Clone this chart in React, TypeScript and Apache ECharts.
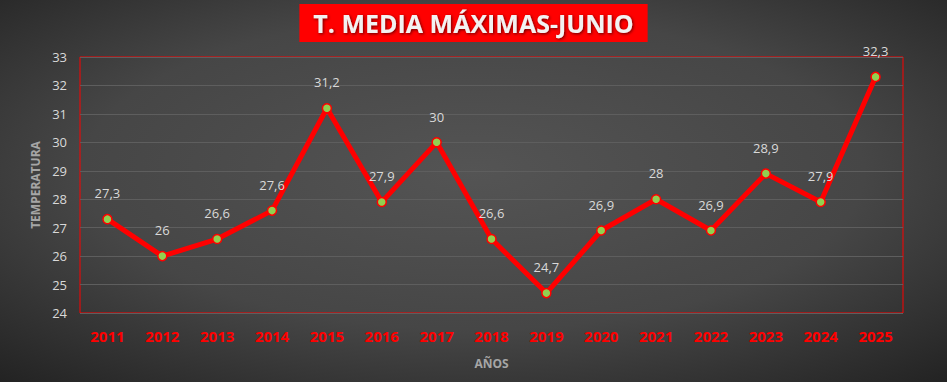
import React, { useEffect, useRef } from "react";
import * as echarts from "echarts";

const years = ["2011","2012","2013","2014","2015","2016","2017","2018","2019","2020","2021","2022","2023","2024","2025"];
const temps = [27.3, 26, 26.6, 27.6, 31.2, 27.9, 30, 26.6, 24.7, 26.9, 28, 26.9, 28.9, 27.9, 32.3];
const title = "T. MEDIA MÁXIMAS-JUNIO";
const yName = "TEMPERATURA";
const xName = "AÑOS";

export default function App() {
  const ref = useRef<HTMLDivElement>(null);
  useEffect(() => {
    document.body.style.margin = "0";
    const chart = echarts.init(ref.current!, null, { renderer: "svg" });
    chart.setOption({
      animation: false,
      backgroundColor: {
        type: "radial", x: 0.5, y: 0.45, r: 0.75,
        colorStops: [
          { offset: 0, color: "#545454" },
          { offset: 0.55, color: "#464646" },
          { offset: 1, color: "#222222" },
        ],
      },
      title: {
        text: title,
        left: "center",
        top: 4,
        backgroundColor: "#ff0000",
        padding: [4, 14, 4, 14],
        textStyle: {
          color: "#f2f2f2",
          fontFamily: "Open Sans",
          fontWeight: "bold",
          fontSize: 25,
          lineHeight: 30,
          textShadowColor: "rgba(0,0,0,0.6)",
          textShadowBlur: 3,
          textShadowOffsetX: 1,
          textShadowOffsetY: 1,
        },
      },
      grid: {
        left: 80, right: 44, top: 57, bottom: 69,
        show: true, borderColor: "#ff0000", borderWidth: 1,
        backgroundColor: "transparent",
      },
      xAxis: {
        type: "category",
        data: years,
        boundaryGap: true,
        name: xName,
        nameLocation: "middle",
        nameGap: 44,
        nameTextStyle: { color: "#a6a6a6", fontWeight: "bold", fontSize: 12, fontFamily: "Open Sans" },
        axisLine: { show: false },
        axisTick: { show: false },
        axisLabel: { color: "#ff0000", fontWeight: "bold", fontSize: 15, margin: 15, fontFamily: "Open Sans" },
      },
      yAxis: {
        type: "value",
        min: 24, max: 33, interval: 1,
        name: yName,
        nameLocation: "middle",
        nameGap: 37,
        nameRotate: 90,
        nameTextStyle: { color: "#a6a6a6", fontWeight: "bold", fontSize: 12, fontFamily: "Open Sans" },
        axisLine: { show: false },
        axisTick: { show: false },
        axisLabel: { color: "#d9d9d9", fontSize: 13, margin: 13, fontFamily: "Open Sans" },
        splitLine: { lineStyle: { color: "#5e5e5e", width: 1 } },
      },
      series: [{
        type: "line",
        data: temps,
        lineStyle: { color: "#ff0000", width: 5 },
        itemStyle: { color: "#92d050", borderColor: "#ff0000", borderWidth: 1.5 },
        symbol: "circle",
        symbolSize: 9,
        label: {
          show: true,
          position: "top",
          distance: 14,
          color: "#d9d9d9",
          fontSize: 13,
          fontFamily: "Open Sans",
          formatter: (p: any) => String(p.value).replace(".", ","),
        },
      }],
    });
    return () => chart.dispose();
  }, []);
  return <div ref={ref} style={{ width: 947, height: 382 }} />;
}
